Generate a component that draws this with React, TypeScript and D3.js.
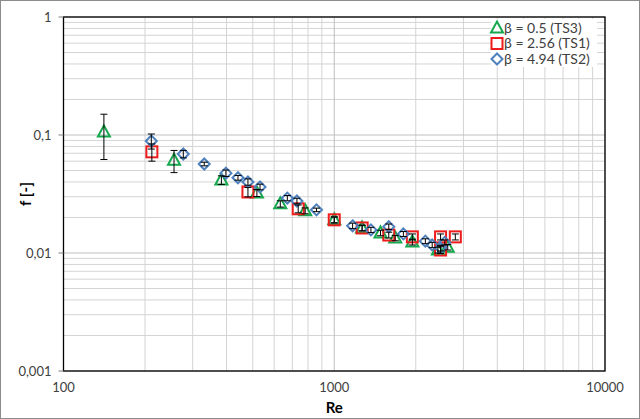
import * as d3 from 'd3';
import {useMemo} from 'react';

const WIDTH = 640;
const HEIGHT = 419;
const MARGIN = {top: 17, right: 35, bottom: 48, left: 63.5};

// TS3, beta = 0.5
const ts3Re = [141, 256, 383, 518, 632, 781, 1000, 1267, 1482, 1680, 1943, 2415, 2625];
const ts3F = [0.106, 0.061, 0.0416, 0.0323, 0.0261, 0.0228, 0.0191, 0.0163, 0.0148, 0.0134, 0.0124, 0.0106, 0.0112];
const ts3Err = [0.044, 0.013, 0.0035, 0.0022, 0.0016, 0.0013, 0.0011, 0.0009, 0.0008, 0.0007, 0.0007, 0.0006, 0.0006];

// TS1, beta = 2.56
const ts1Re = [212, 480, 736, 1000, 1268, 1590, 1943, 2470, 2470, 2800];
const ts1F = [0.072, 0.0329, 0.0237, 0.0191, 0.0163, 0.0142, 0.0137, 0.0106, 0.0137, 0.0137];
const ts1Err = [0.012, 0.003, 0.0018, 0.0011, 0.0009, 0.0008, 0.0008, 0.0007, 0.0008, 0.0008];

// TS2, beta = 4.94
const ts2Re = [211, 277, 331, 398, 441, 480, 532, 671, 728, 860, 1169, 1366, 1590, 1800, 2170, 2300, 2470, 2560];
const ts2F = [0.089, 0.069, 0.0568, 0.0475, 0.0434, 0.04, 0.0363, 0.0292, 0.0276, 0.0232, 0.017, 0.0157, 0.0167, 0.0145, 0.0126, 0.0117, 0.011, 0.0123];
const ts2Err = [0.013, 0.005, 0.002, 0.003, 0.002, 0.0025, 0.002, 0.0015, 0.0015, 0.0008, 0.0009, 0.0008, 0.0009, 0.0007, 0.0006, 0.0006, 0.0006, 0.0006];

const xTicks = [100, 1000, 10000];
const yTicks = [0.001, 0.01, 0.1, 1];
const yTickLabels = ['0,001', '0,01', '0,1', '1'];
const legendLabels = ['β = 0.5 (TS3)', 'β = 2.56 (TS1)', 'β = 4.94 (TS2)'];

const GREEN = '#16a84e';
const RED = '#ee1c1c';
const BLUE = '#4f81bd';
const FONT = 'Lato, "Open Sans", sans-serif';

type Shape = 'triangle' | 'square' | 'diamond';

function Marker({shape, x, y, color}: {shape: Shape; x: number; y: number; color: string}) {
  if (shape === 'square') {
    return <rect x={x - 5.5} y={y - 5.5} width={11} height={11} fill="none" stroke={color} strokeWidth={2} />;
  }
  if (shape === 'triangle') {
    return (
      <path
        d={`M${x},${y - 6.5}L${x + 6},${y + 4.5}L${x - 6},${y + 4.5}Z`}
        fill="none"
        stroke={color}
        strokeWidth={2}
        strokeLinejoin="miter"
      />
    );
  }
  return (
    <path
      d={`M${x},${y - 5.5}L${x + 5.5},${y}L${x},${y + 5.5}L${x - 5.5},${y}Z`}
      fill="none"
      stroke={color}
      strokeWidth={2}
    />
  );
}

function minorTicks(lo: number, hi: number) {
  const out: number[] = [];
  for (let d = lo; d < hi; d *= 10) {
    for (let k = 2; k <= 9; k++) out.push(d * k);
  }
  return out;
}

function App() {
  const innerW = WIDTH - MARGIN.left - MARGIN.right;
  const innerH = HEIGHT - MARGIN.top - MARGIN.bottom;

  const x = useMemo(() => d3.scaleLog().domain([100, 10000]).range([MARGIN.left, MARGIN.left + innerW]), [innerW]);
  const y = useMemo(() => d3.scaleLog().domain([0.001, 1]).range([MARGIN.top + innerH, MARGIN.top]), [innerH]);

  const series = [
    {shape: 'triangle' as Shape, color: GREEN, re: ts3Re, f: ts3F, err: ts3Err},
    {shape: 'square' as Shape, color: RED, re: ts1Re, f: ts1F, err: ts1Err},
    {shape: 'diamond' as Shape, color: BLUE, re: ts2Re, f: ts2F, err: ts2Err},
  ];

  const x0 = MARGIN.left;
  const x1 = MARGIN.left + innerW;
  const y0 = MARGIN.top + innerH;
  const y1 = MARGIN.top;

  return (
    <svg
      width={WIDTH}
      height={HEIGHT}
      style={{position: 'absolute', left: 0, top: 0, background: '#fff'}}
      fontFamily={FONT}
    >
      <rect x={0.5} y={0.5} width={WIDTH - 1} height={HEIGHT - 1} fill="#fff" stroke="#8c8c8c" />

      {/* grid */}
      <g stroke="#d4d4d4" strokeWidth={1}>
        {minorTicks(100, 10000).map((t) => (
          <line key={`xm${t}`} x1={x(t)} x2={x(t)} y1={y1} y2={y0} />
        ))}
        {minorTicks(0.001, 1).map((t) => (
          <line key={`ym${t}`} x1={x0} x2={x1} y1={y(t)} y2={y(t)} />
        ))}
      </g>
      <g stroke="#bfbfbf" strokeWidth={1}>
        {xTicks.map((t) => (
          <line key={`xg${t}`} x1={x(t)} x2={x(t)} y1={y1} y2={y0} />
        ))}
        {yTicks.map((t) => (
          <line key={`yg${t}`} x1={x0} x2={x1} y1={y(t)} y2={y(t)} />
        ))}
      </g>

      {/* frame and ticks */}
      <rect x={x0} y={y1} width={innerW} height={innerH} fill="none" stroke="#000" strokeWidth={1.3} />
      <g stroke="#7f7f7f">
        {yTicks.map((t) => (
          <line key={`yt${t}`} x1={x0 - 5} x2={x0} y1={y(t)} y2={y(t)} />
        ))}
      </g>

      {/* markers */}
      {series.map((s) =>
        s.re.map((re, i) => (
          <Marker key={`${s.shape}${i}`} shape={s.shape} x={x(re)} y={y(s.f[i])} color={s.color} />
        ))
      )}

      {/* error bars */}
      <g stroke="#000" strokeWidth={1}>
        {series.map((s) =>
          s.re.map((re, i) => {
            const cx = x(re);
            const top = y(s.f[i] + s.err[i]);
            const bot = y(s.f[i] - s.err[i]);
            return (
              <g key={`e${s.shape}${i}`}>
                <line x1={cx} x2={cx} y1={top} y2={bot} />
                <line x1={cx - 3.5} x2={cx + 3.5} y1={top} y2={top} />
                <line x1={cx - 3.5} x2={cx + 3.5} y1={bot} y2={bot} />
              </g>
            );
          })
        )}
      </g>

      {/* tick labels */}
      <g fontSize={13} fill="#404040">
        {yTicks.map((t, i) => (
          <text key={`yl${t}`} x={x0 - 12} y={y(t)} dy="0.35em" textAnchor="end">
            {yTickLabels[i]}
          </text>
        ))}
        {xTicks.map((t) => (
          <text key={`xl${t}`} x={x(t)} y={y0 + 21} textAnchor="middle">
            {t}
          </text>
        ))}
      </g>

      <text x={(x0 + x1) / 2} y={HEIGHT - 6} textAnchor="middle" fontSize={15} fontWeight="bold" fill="#000">
        Re
      </text>
      <text
        transform={`translate(31,${(y0 + y1) / 2}) rotate(-90)`}
        textAnchor="middle"
        fontSize={15}
        fontWeight="bold"
        fill="#000"
      >
        f [-]
      </text>

      {/* legend */}
      <rect x={491} y={19} width={106} height={48} fill="#fff" />
      {series.map((s, i) => (
        <g key={`lg${i}`}>
          <Marker shape={s.shape} x={497} y={28 + i * 15.5} color={s.color} />
          <text x={504} y={28 + i * 15.5} dy="0.35em" fontSize={14} fill="#404040">
            {legendLabels[i]}
          </text>
        </g>
      ))}
    </svg>
  );
}

export default App;
